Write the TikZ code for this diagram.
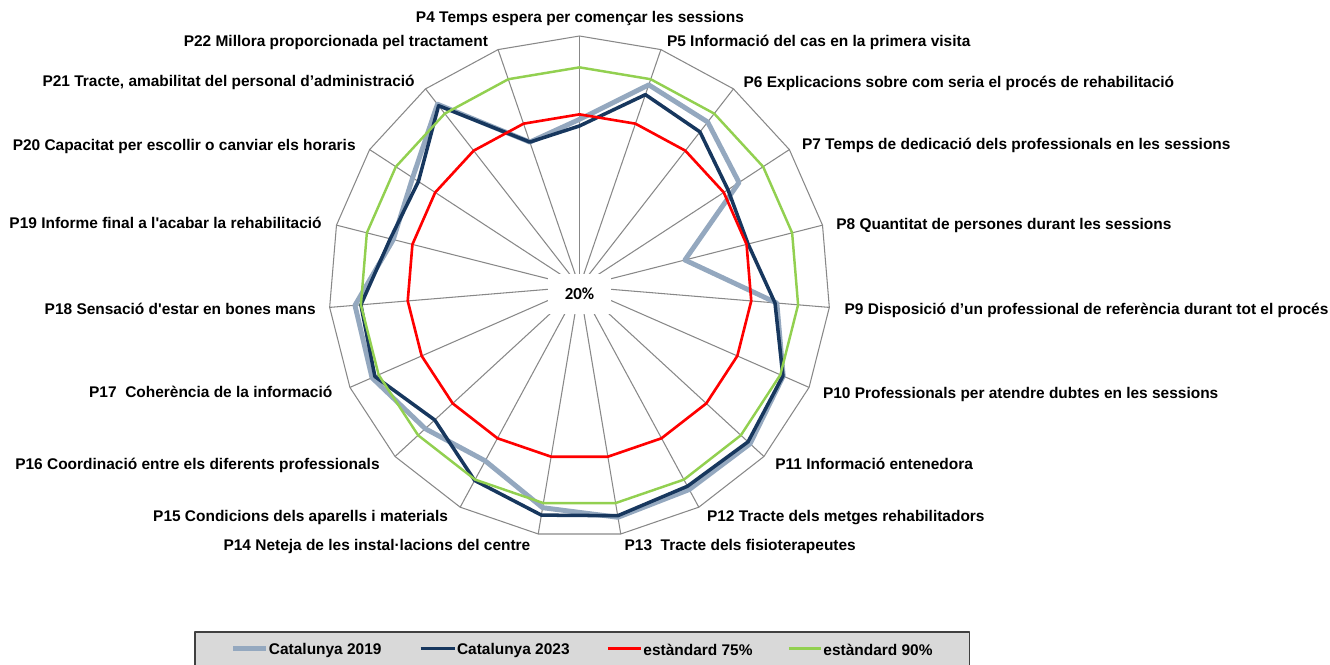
\documentclass[tikz,border=0pt]{standalone}
\usepackage{fontspec}
\setmainfont{Liberation Sans}[Ligatures=TeXOff]
\newfontfamily\calfont{Carlito}
\usepackage{tikz}
\usetikzlibrary{positioning,calc}

\definecolor{cat19}{HTML}{94A8BF}
\definecolor{cat23}{HTML}{17375E}
\definecolor{std75}{HTML}{FF0000}
\definecolor{std90}{HTML}{92D050}
\definecolor{gridgray}{HTML}{888888}
\definecolor{legfill}{HTML}{D9D9D9}
\definecolor{legdraw}{HTML}{404040}

% radius of the outer ring (100%), centre = 20%
\newcommand{\Rad}{250.7}
\newcommand{\valsA}{73.4,88.1,86.6,80.8,54.7,83.2,91.0,94.0,93.6,94.6,91.5,83.2,86.9,92.3,91.9,81.3,83.6,93.8,68.8}
\newcommand{\valsB}{71.3,84.8,82.6,76.6,75.5,82.6,90.9,93.1,92.4,94.1,93.9,90.3,82.8,91.3,90.0,82.3,81.4,93.2,68.8}

\begin{document}
\begin{tikzpicture}[x=0.02cm, y=0.02cm, line join=round, font=\fontsize{8.8}{10.5}\selectfont\bfseries]
    % Styles
    \tikzstyle{axisline} = [draw=gridgray, line width=0.6pt]
    \tikzstyle{serie19} = [draw=cat19, line width=2.8pt]
    \tikzstyle{serie23} = [draw=cat23, line width=2pt]
    \tikzstyle{serie75} = [draw=std75, line width=1.5pt]
    \tikzstyle{serie90} = [draw=std90, line width=1.4pt]
    \tikzstyle{lblL} = [anchor=mid west, inner sep=0pt]
    \tikzstyle{lblR} = [anchor=mid east, inner sep=0pt]
    \tikzstyle{legtext} = [inner xsep=1.2pt, inner ysep=0pt]

    \useasboundingbox (-579.5,-377.3) rectangle (750.5,286.7);

    % Axes
    \coordinate (ctr) at (0,0);
    \foreach \i in {0,...,18}
        \coordinate (ax\i) at ({90-\i*360/19}:\Rad);
    \draw[axisline] (ax0) \foreach \i in {1,...,18}{ -- (ax\i)} -- cycle;
    \foreach \i in {0,...,18}
        \draw[axisline] (ctr) -- (ax\i);
    \node[fill=white, minimum width=1.28cm, minimum height=0.8cm, inner sep=0pt,
          font=\calfont\fontsize{9.6}{11}\selectfont\bfseries] (pct) at (0,-7) {20\%};

    % Series
    \foreach \v [count=\i from 0] in \valsA
        \coordinate (a\i) at ({90-\i*360/19}:{(\v-20)/80*\Rad});
    \foreach \v [count=\i from 0] in \valsB
        \coordinate (b\i) at ({90-\i*360/19}:{(\v-20)/80*\Rad});
    \foreach \i in {0,...,18} {
        \coordinate (s75\i) at ({90-\i*360/19}:{55/80*\Rad});
        \coordinate (s90\i) at ({90-\i*360/19}:{70/80*\Rad});
    }
    \draw[serie19] (a0) \foreach \i in {1,...,18}{ -- (a\i)} -- cycle;
    \draw[serie23] (b0) \foreach \i in {1,...,18}{ -- (b\i)} -- cycle;
    \draw[serie75] (s750) \foreach \i in {1,...,18}{ -- (s75\i)} -- cycle;
    \draw[serie90] (s900) \foreach \i in {1,...,18}{ -- (s90\i)} -- cycle;

    % Labels
    \node[anchor=mid, inner sep=0pt] (p4) at (0.5,268.5) {P4 Temps espera per començar les sessions};
    \node[lblL] (p5) at (87.2,245.2) {P5 Informació del cas en la primera visita};
    \node[lblL] (p6) at (163.8,204.2) {P6 Explicacions sobre com seria el procés de rehabilitació};
    \node[lblL] (p7) at (222.2,142.2) {P7 Temps de dedicació dels professionals en les sessions};
    \node[lblL] (p8) at (256.5,62.2) {P8 Quantitat de persones durant les sessions};
    \node[lblL] (p9) at (264.8,-22.8) {P9 Disposició d’un professional de referència durant tot el procés};
    \node[lblL] (p10) at (243.2,-106.8) {P10 Professionals per atendre dubtes en les sessions};
    \node[lblL] (p11) at (195.5,-177.8) {P11 Informació entenedora};
    \node[lblL] (p12) at (127.2,-230.3) {P12 Tracte dels metges rehabilitadors};
    \node[lblL] (p13) at (44.8,-258.8) {P13\ \ Tracte dels fisioterapeutes};
    \node[lblR] (p14) at (-48.8,-258.8) {P14 Neteja de les instal·lacions del centre};
    \node[lblR] (p15) at (-131.2,-230.3) {P15 Condicions dels aparells i materials};
    \node[lblR] (p16) at (-199.5,-177.8) {P16 Coordinació entre els diferents professionals};
    \node[lblR] (p17) at (-246.8,-106.5) {P17\ \ Coherència de la informació};
    \node[lblR] (p18) at (-263.5,-22.8) {P18 Sensació d'estar en bones mans};
    \node[lblR] (p19) at (-257.5,63.2) {P19 Informe final a l'acabar la rehabilitació};
    \node[lblR] (p20) at (-223.5,141.2) {P20 Capacitat per escollir o canviar els horaris};
    \node[lblR] (p21) at (-164.5,205.2) {P21 Tracte, amabilitat del personal d’administració};
    \node[lblR] (p22) at (-91.2,245.2) {P22 Millora proporcionada pel tractament};

    % Legend
    \draw[legdraw, fill=legfill, line width=0.6pt] (-384.5,-345.3) rectangle (389.8,-395);
    \coordinate (lg1) at (-346,-362);
    \coordinate (lg2) at (-158.9,-362);
    \coordinate (lg3) at (28.5,-362);
    \coordinate (lg4) at (209.5,-362);
    \node[legtext, right=0.66cm of lg1, yshift=-0.03cm] (lt1) {Catalunya 2019};
    \node[legtext, right=0.68cm of lg2, yshift=-0.03cm] (lt2) {Catalunya 2023};
    \node[legtext, right=0.66cm of lg3, yshift=-0.03cm] (lt3) {estàndard 75\%};
    \node[legtext, right=0.64cm of lg4, yshift=-0.03cm] (lt4) {estàndard 90\%};
    \draw[serie19] (lg1) -- (lg1 -| lt1.west);
    \draw[serie23] (lg2) -- (lg2 -| lt2.west);
    \draw[serie75] (lg3) -- (lg3 -| lt3.west);
    \draw[serie90] (lg4) -- (lg4 -| lt4.west);
\end{tikzpicture}
\end{document}
